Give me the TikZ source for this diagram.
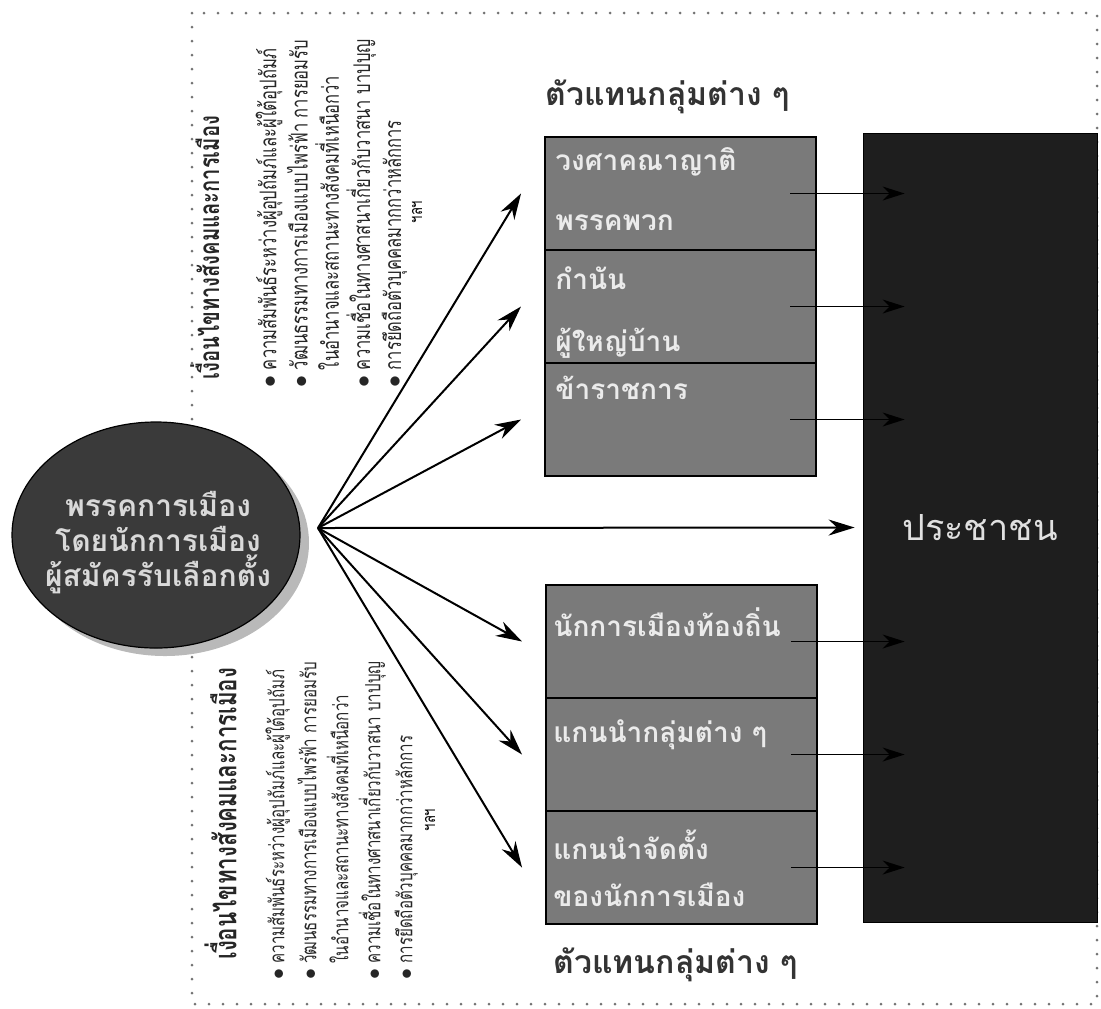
\documentclass[tikz,border=0pt]{standalone}
\usepackage{fontspec}
\newfontfamily\thaifont[Script=Thai]{Loma}
\newfontfamily\thainarrow[Script=Thai,FakeStretch=0.72]{Loma}
\usetikzlibrary{positioning, shapes.geometric, shadows, arrows.meta}

\definecolor{boxgray}{HTML}{7A7A7A}
\definecolor{nightgray}{HTML}{1E1E1E}
\definecolor{partygray}{HTML}{3A3A3A}

\begin{document}
\begin{tikzpicture}[x=0.5pt, y=-0.5pt, >={Stealth[length=13pt,width=8pt]},
  section/.style={draw, line width=1pt, fill=boxgray, minimum width=135.5pt,
    minimum height=56.5pt, outer sep=0pt, inner sep=0pt},
  boxtext/.style={anchor=west, inner sep=0pt, text=white!92!black,
    font=\thaifont\bfseries\fontsize{14}{16}\selectfont},
  heading/.style={anchor=west, inner sep=0pt, text=black!80,
    font=\thaifont\bfseries\fontsize{16}{18}\selectfont},
  cond/.style={rotate=90, anchor=north west, align=left, inner sep=0pt, text=black!85},
  longarr/.style={->, line width=1pt},
  shortarr/.style={->, line width=0.8pt, >={Stealth[length=11pt,width=7pt]}}]

  \useasboundingbox (0,0) rectangle (1101,1008);
  % dotted frame
  \draw[black!55, line width=1.5pt, line cap=round, dash pattern=on 0pt off 7pt]
    (192,13) rectangle (1097,1004);

  % social and political conditions (rotated)
  \node[cond, font=\thainarrow\fontsize{11.5}{15.6}\selectfont] (condup) at (190,388)
    {\hspace*{4pt}{\fontsize{14}{15.6}\selectfont\bfseries เงื่อนไขทางสังคมและการเมือง}\\[13pt]
     $\bullet$\ ความสัมพันธ์ระหว่างผู้อุปถัมภ์และผู้ใต้อุปถัมภ์\\
     $\bullet$\ วัฒนธรรมทางการเมืองแบบไพร่ฟ้า การยอมรับ\\
     \phantom{$\bullet$\ }ในอำนาจและสถานะทางสังคมที่เหนือกว่า\\
     $\bullet$\ ความเชื่อในทางศาสนาเกี่ยวกับวาสนา บาปบุญ\\
     $\bullet$\ การยึดถือตัวบุคคลมากกว่าหลักการ};
  \node[rotate=90, font=\thainarrow\fontsize{9}{10}\selectfont] (etcup) at (417,212) {ฯลฯ};

  \node[cond, font=\thainarrow\fontsize{10.5}{16}\selectfont] (condlow) at (204,980)
    {\hspace*{10pt}{\fontsize{15.5}{16}\selectfont\bfseries เงื่อนไขทางสังคมและการเมือง}\\[8pt]
     $\bullet$\ ความสัมพันธ์ระหว่างผู้อุปถัมภ์และผู้ใต้อุปถัมภ์\\
     $\bullet$\ วัฒนธรรมทางการเมืองแบบไพร่ฟ้า การยอมรับ\\
     \phantom{$\bullet$\ }ในอำนาจและสถานะทางสังคมที่เหนือกว่า\\
     $\bullet$\ ความเชื่อในทางศาสนาเกี่ยวกับวาสนา บาปบุญ\\
     $\bullet$\ การยึดถือตัวบุคคลมากกว่าหลักการ};
  \node[rotate=90, font=\thainarrow\fontsize{9}{10}\selectfont] (etclow) at (430,820) {ฯลฯ};

  % party
  \node[ellipse, draw=black, line width=0.6pt, fill=partygray, inner sep=0pt,
    minimum width=144pt, minimum height=113pt,
    drop shadow={shadow xshift=4.5pt, shadow yshift=-4pt, fill=gray!55, opacity=1}]
    (party) at (156,535) {};
  \node[align=center, text=white!85!black, inner sep=0pt,
    font=\thaifont\bfseries\fontsize{15}{17.5}\selectfont] (partyname) at (158,543)
    {พรรคการเมือง\\โดยนักการเมือง\\ผู้สมัครรับเลือกตั้ง};
  \coordinate (hub) at (318,528);

  % representatives
  \node[section] (u1) at (680.5,193.5) {};
  \node[section, below=0pt of u1] (u2) {};
  \node[section, below=0pt of u2] (u3) {};
  \node[section] (l1) at (681.5,641.5) {};
  \node[section, below=0pt of l1] (l2) {};
  \node[section, below=0pt of l2] (l3) {};

  \node[boxtext] (kin) at (555,162) {วงศาคณาญาติ};
  \node[boxtext] (clan) at (555,223) {พรรคพวก};
  \node[boxtext] (kamnan) at (555,278) {กำนัน};
  \node[boxtext] (headman) at (555,343) {ผู้ใหญ่บ้าน};
  \node[boxtext] (official) at (555,388) {ข้าราชการ};
  \node[boxtext] (local) at (553,622) {นักการเมืองท้องถิ่น};
  \node[boxtext] (leaders) at (553,735) {แกนนำกลุ่มต่าง ๆ};
  \node[boxtext] (core) at (553,845) {แกนนำจัดตั้ง};
  \node[boxtext] (corepol) at (553,895) {ของนักการเมือง};

  \node[heading] (headup) at (545,97) {ตัวแทนกลุ่มต่าง ๆ};
  \node[heading] (headlow) at (553,965) {ตัวแทนกลุ่มต่าง ๆ};

  % people
  \node[draw, fill=nightgray, minimum width=117pt, minimum height=394.5pt,
    text=white!88!black, font=\thaifont\fontsize{18}{22}\selectfont] (ppl) at (980,527.5) {ประชาชน};

  % connectors
  \foreach \s in {u1,u2,u3,l1,l2,l3} {
    \draw[longarr] (hub) -- ([xshift=-12pt]\s.west);
    \draw[shortarr] ([xshift=-13pt]\s.east) -- ([xshift=21pt]ppl.west |- \s.east);
  }
  \draw[longarr] (hub) -- ([xshift=-4pt]ppl.west);
\end{tikzpicture}
\end{document}
